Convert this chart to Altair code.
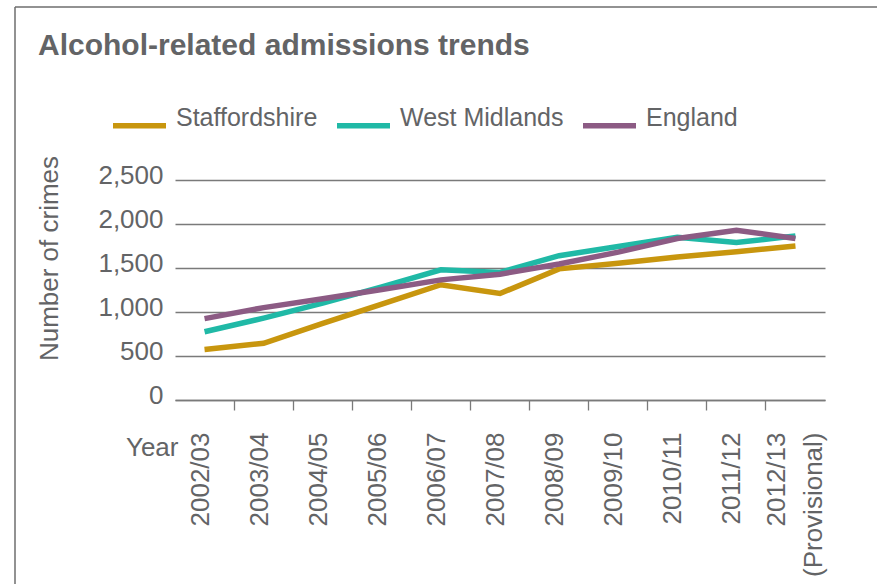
import altair as alt
import pandas as pd

years = ["2002/03", "2003/04", "2004/05", "2005/06", "2006/07", "2007/08",
         "2008/09", "2009/10", "2010/11", "2011/12", "2012/13 (Provisional)"]
series = ["Staffordshire", "West Midlands", "England"]
staffordshire = [575, 645, 870, 1090, 1310, 1210, 1490, 1555, 1625, 1685, 1750]
west_midlands = [775, 930, 1100, 1285, 1480, 1450, 1640, 1745, 1850, 1790, 1865]
england = [925, 1050, 1150, 1255, 1365, 1430, 1545, 1680, 1835, 1930, 1835]
colors = ["#C8960E", "#20B9A6", "#8C5B84"]
y_ticks = [0, 500, 1000, 1500, 2000, 2500]

rows = []
for name, vals in zip(series, [staffordshire, west_midlands, england]):
    for yr, v in zip(years, vals):
        rows.append({"year": yr, "series": name, "value": v})
df = pd.DataFrame(rows)

FONT = "'Liberation Sans', Arial, sans-serif"
TXT = "#636466"
GRID = "#7a7a7a"
FS = 26

PL, PT, W, H = 175, 180, 650, 220

base = alt.Chart(df).encode(
    x=alt.X(
        "year:O", sort=years,
        scale=alt.Scale(type="band", paddingInner=0, paddingOuter=0),
        axis=alt.Axis(
            title="Year", titleFont=FONT, titleFontSize=FS, titleFontWeight="normal",
            titleColor=TXT, titleAlign="right", titleBaseline="alphabetic",
            titleX=3, titleY=55, titleAngle=0,
            labelAngle=270, labelFont=FONT, labelFontSize=FS, labelColor=TXT,
            labelAlign="right", labelBaseline="middle", labelPadding=22,
            labelLineHeight=37, labelExpr="split(datum.value, ' ')",
            labelOffset={"condition": {"test": "datum.value == '2012/13 (Provisional)'", "value": -18},
                         "value": -4},
            labelLimit=0, labelOverlap=False,
            bandPosition=0, tickExtra=False, grid=False,
            domainColor=GRID, domainWidth=1.3,
            tickColor=GRID, tickWidth=1.3, tickSize=10,
            tickOpacity={"condition": {"test": "datum.value == '2002/03'", "value": 0}, "value": 1},
        ),
    ),
    y=alt.Y(
        "value:Q", scale=alt.Scale(domain=[0, 2500], nice=False),
        axis=alt.Axis(
            values=y_ticks, format=",d", title="Number of crimes",
            titleFont=FONT, titleFontSize=FS, titleFontWeight="normal", titleColor=TXT,
            titleAngle=270, titleAlign="center", titleBaseline="middle",
            titleX=-126, titleY=78,
            labelFont=FONT, labelFontSize=FS, labelColor=TXT, labelPadding=12,
            labelBaseline="middle", labelOffset=-5,
            ticks=False, domain=False,
            gridColor=GRID, gridWidth=1.3,
        ),
    ),
    color=alt.Color(
        "series:N", sort=series,
        scale=alt.Scale(domain=series, range=colors),
        legend=alt.Legend(
            orient="none", legendX=-65, legendY=-84, direction="horizontal",
            title=None, symbolType="stroke", symbolSize=2809, symbolStrokeWidth=5.5,
            labelFont=FONT, labelFontSize=25, labelColor=TXT, labelOffset=7,
            labelBaseline="alphabetic", columnPadding=8, labelLimit=0,
        ),
    ),
)

lines = base.mark_line(strokeWidth=5.5, strokeJoin="miter")

frame_df = pd.DataFrame({"k": [0]})
top_rule = alt.Chart(frame_df).mark_rule(color="#6e6e6e", strokeWidth=1.5).encode(
    x=alt.value(15 - PL), x2=alt.value(877 - PL), y=alt.value(7 - PT))
left_rule = alt.Chart(frame_df).mark_rule(color="#6e6e6e", strokeWidth=1.5).encode(
    x=alt.value(15 - PL), y=alt.value(7 - PT), y2=alt.value(584 - PT))

chart = alt.layer(lines, top_rule, left_rule).properties(
    width=W, height=H,
    autosize=alt.AutoSizeParams(type="none"),
    padding={"left": PL, "top": PT, "right": 877 - PL - W, "bottom": 584 - PT - H},
    title=alt.TitleParams(
        "Alcohol-related admissions trends", anchor="start", frame="group",
        font=FONT, fontSize=30, fontWeight="bold", baseline="alphabetic",
        color=TXT, dx=-137, dy=89, offset=10,
    ),
    background="white",
).configure_view(stroke=None)

chart.save("out.html", embed_options={"renderer": "svg", "actions": False})
